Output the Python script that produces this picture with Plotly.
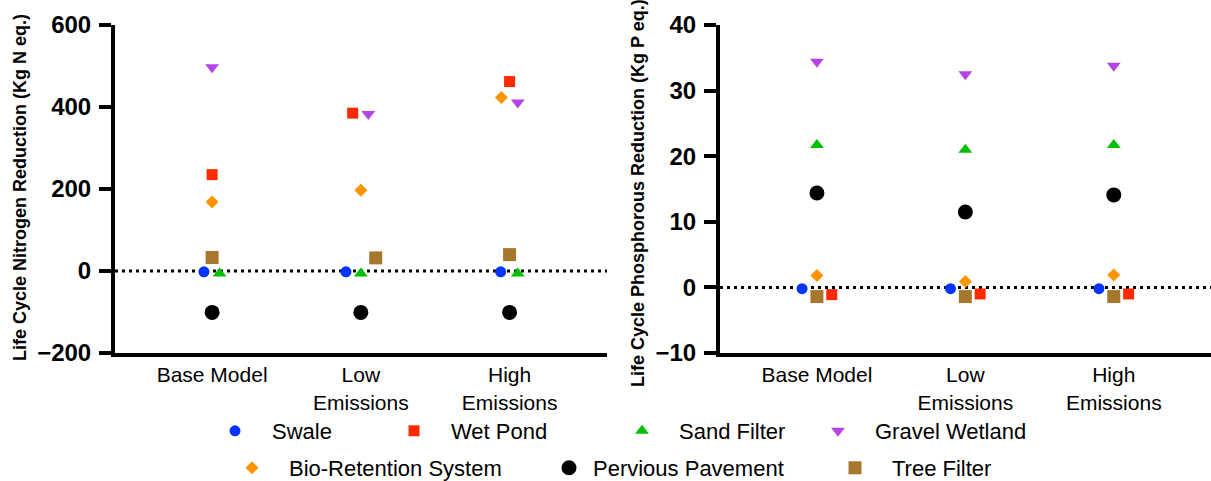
import plotly.graph_objects as go

# Scenario categories shown on both x axes
scenarios = ["Base Model", "Low<br>Emissions", "High<br>Emissions"]
systems = ["Swale", "Wet Pond", "Sand Filter", "Gravel Wetland",
           "Bio-Retention System", "Pervious Pavement", "Tree Filter"]

# Life cycle nitrogen reduction (kg N eq.) per scenario
n_swale = [-2, -2, -2]
n_wet_pond = [235, 385, 462]
n_sand_filter = [-6, -6, -6]
n_gravel_wetland = [497, 383, 411]
n_bio_retention = [168, 197, 423]
n_pervious_pavement = [-101, -101, -101]
n_tree_filter = [33, 32, 40]

# Life cycle phosphorous reduction (kg P eq.) per scenario
p_swale = [-0.2, -0.2, -0.2]
p_wet_pond = [-1.1, -1.0, -1.0]
p_sand_filter = [21.7, 21.0, 21.7]
p_gravel_wetland = [34.4, 32.5, 33.8]
p_bio_retention = [1.8, 0.9, 1.9]
p_pervious_pavement = [14.4, 11.5, 14.1]
p_tree_filter = [-1.4, -1.4, -1.4]

# Y-axis ticks
n_ticks = [-200, 0, 200, 400, 600]
p_ticks = [-10, 0, 10, 20, 30, 40]

nitrogen = dict(zip(systems, [n_swale, n_wet_pond, n_sand_filter, n_gravel_wetland,
                              n_bio_retention, n_pervious_pavement, n_tree_filter]))
phosphorus = dict(zip(systems, [p_swale, p_wet_pond, p_sand_filter, p_gravel_wetland,
                                p_bio_retention, p_pervious_pavement, p_tree_filter]))

# Marker styling per system
style = {
    "Swale": dict(symbol="circle", color="#0533FF", size=11),
    "Wet Pond": dict(symbol="square", color="#FF2A00", size=11),
    "Sand Filter": dict(symbol="triangle-up", color="#00BE00", size=12),
    "Gravel Wetland": dict(symbol="triangle-down", color="#B544E8", size=12),
    "Bio-Retention System": dict(symbol="diamond", color="#FF9400", size=10),
    "Pervious Pavement": dict(symbol="circle", color="#000000", size=15),
    "Tree Filter": dict(symbol="square", color="#A7772D", size=13),
}

# Horizontal scatter offsets (category units) so overlapping points stay visible
jitter_n = {
    "Swale": [-0.055, -0.1, -0.06],
    "Wet Pond": [0, -0.055, 0],
    "Sand Filter": [0.05, 0, 0.055],
    "Gravel Wetland": [0, 0.05, 0.055],
    "Bio-Retention System": [0, 0, -0.055],
    "Pervious Pavement": [0, 0, 0],
    "Tree Filter": [0, 0.1, 0],
}
jitter_p = {
    "Swale": [-0.1, -0.1, -0.1],
    "Wet Pond": [0.1, 0.1, 0.1],
    "Sand Filter": [0, 0, 0],
    "Gravel Wetland": [0, 0, 0],
    "Bio-Retention System": [0, 0, 0],
    "Pervious Pavement": [0, 0, 0],
    "Tree Filter": [0, 0, 0],
}

# Legend placement: (symbol centre x px, row centre y px, item width)
legend_slots = {
    "Swale": (235, 431, 64),
    "Wet Pond": (414, 431, 64),
    "Sand Filter": (642, 431, 64),
    "Gravel Wetland": (838, 431, 64),
    "Bio-Retention System": (252, 468, 64),
    "Pervious Pavement": (569, 468, 38),
    "Tree Filter": (855, 468, 64),
}

W, H = 1211, 481
FONT = "Liberation Sans, Arial, Helvetica, sans-serif"


def fx(px):
    return px / W


def fy(py):
    return (H - py) / H


fig = go.Figure()
base = list(range(len(scenarios)))

for i, name in enumerate(systems):
    st = style[name]
    marker = dict(symbol=st["symbol"], color=st["color"], size=st["size"], line=dict(width=0))
    legend_id = "legend" if i == 0 else f"legend{i + 1}"
    fig.add_trace(go.Scatter(
        x=[b + o for b, o in zip(base, jitter_n[name])], y=nitrogen[name],
        mode="markers", marker=marker, name=name, legend=legend_id,
        xaxis="x", yaxis="y", cliponaxis=False,
    ))
    fig.add_trace(go.Scatter(
        x=[b + o for b, o in zip(base, jitter_p[name])], y=phosphorus[name],
        mode="markers", marker=marker, name=name, showlegend=False,
        xaxis="x2", yaxis="y2", cliponaxis=False,
    ))

legends = {}
for i, name in enumerate(systems):
    sx, sy, iw = legend_slots[name]
    key = "legend" if i == 0 else f"legend{i + 1}"
    legends[key] = dict(
        x=fx(sx - (iw / 2 + 5)), y=fy(sy), xanchor="left", yanchor="middle",
        orientation="h", itemwidth=iw, bgcolor="rgba(0,0,0,0)", borderwidth=0,
        font=dict(family=FONT, size=22, color="#000000"),
    )

xaxis_common = dict(
    range=[-0.653, 2.655], tickmode="array", tickvals=base, ticktext=scenarios,
    showline=True, linewidth=4, linecolor="#000000", ticks="", showgrid=False,
    zeroline=False, tickfont=dict(family=FONT, size=21, color="#000000"),
    automargin=False, fixedrange=True,
)
yaxis_common = dict(
    showline=True, linewidth=4, linecolor="#000000", ticks="outside", ticklen=12,
    tickwidth=4, tickcolor="#000000", showgrid=False, zeroline=False,
    tickfont=dict(family=FONT, size=24, color="#000000", weight="bold"),
    ticklabelstandoff=3, automargin=False, fixedrange=True,
)

y_dom = [fy(353), fy(25)]

fig.update_layout(
    width=W, height=H,
    margin=dict(l=0, r=0, t=0, b=0, autoexpand=False),
    paper_bgcolor="#ffffff", plot_bgcolor="#ffffff",
    xaxis=dict(domain=[fx(115), fx(607)], anchor="y", **xaxis_common),
    yaxis=dict(domain=y_dom, anchor="x", range=[-200, 600], tickvals=n_ticks, **yaxis_common),
    xaxis2=dict(domain=[fx(720), 1.0], anchor="y2", **xaxis_common),
    yaxis2=dict(domain=y_dom, anchor="x2", range=[-10, 40], tickvals=p_ticks, **yaxis_common),
    shapes=[
        dict(type="line", xref="x domain", yref="y", x0=0, x1=1, y0=0, y1=0,
             line=dict(color="#000000", width=3, dash="3px,4px"), layer="below"),
        dict(type="line", xref="x2 domain", yref="y2", x0=0, x1=1, y0=0, y1=0,
             line=dict(color="#000000", width=3, dash="3px,4px"), layer="below"),
    ],
    annotations=[
        dict(text="Life Cycle Nitrogen Reduction (Kg N eq.)", xref="paper", yref="paper",
             x=fx(20), y=fy(188), textangle=-90, showarrow=False,
             xanchor="center", yanchor="middle",
             font=dict(family=FONT, size=18, color="#000000", weight="bold")),
        dict(text="Life Cycle Phosphorous Reduction (Kg P eq.)", xref="paper", yref="paper",
             x=fx(638), y=fy(193), textangle=-90, showarrow=False,
             xanchor="center", yanchor="middle",
             font=dict(family=FONT, size=18, color="#000000", weight="bold")),
    ],
    **legends,
)

fig.write_html("out.html")
